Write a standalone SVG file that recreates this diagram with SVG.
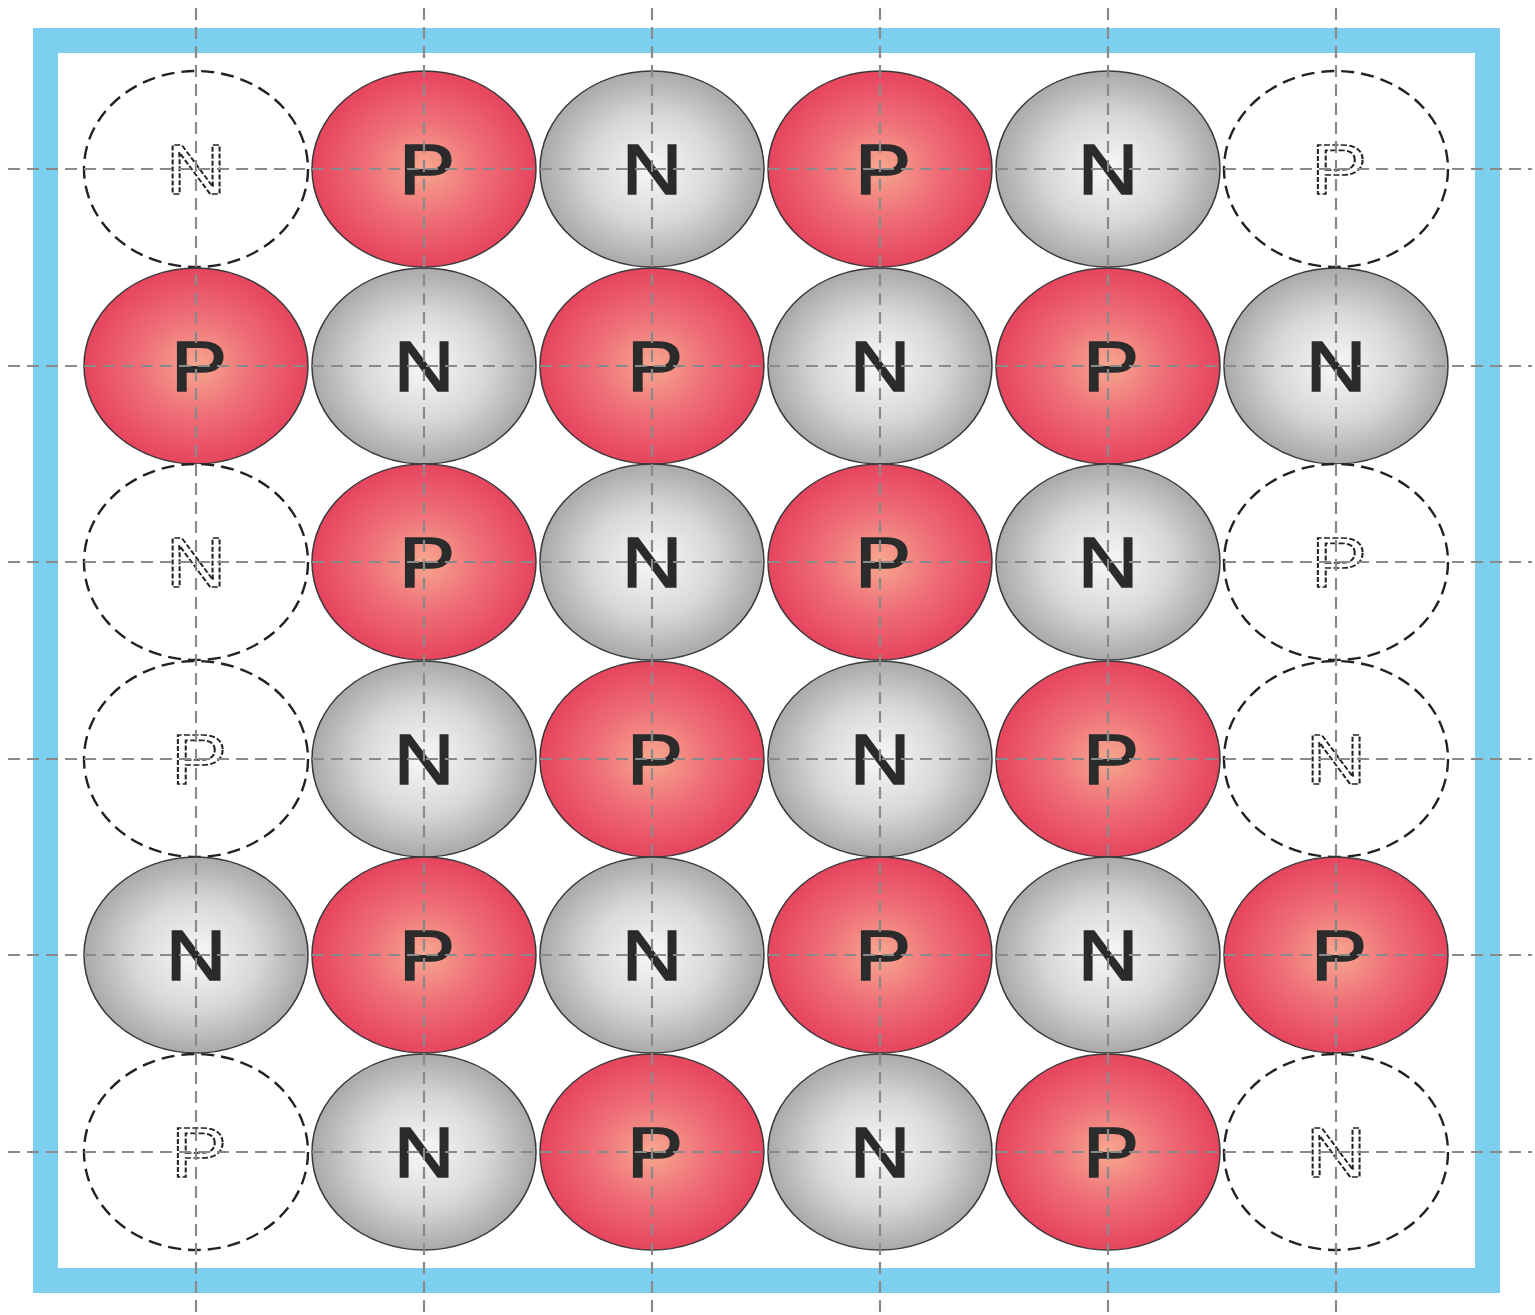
<svg xmlns="http://www.w3.org/2000/svg" width="1535" height="1315" viewBox="0 0 1535 1315">
<defs>
<radialGradient id="gr" cx="0.5" cy="0.5" r="0.5">
<stop offset="0" stop-color="#f7a88f"/>
<stop offset="0.5" stop-color="#ef6f78"/>
<stop offset="1" stop-color="#e6445d"/>
</radialGradient>
<radialGradient id="gg" cx="0.5" cy="0.5" r="0.5">
<stop offset="0" stop-color="#f8f8f8"/>
<stop offset="0.55" stop-color="#d8d8d8"/>
<stop offset="1" stop-color="#a9a9a9"/>
</radialGradient>
<style>
.p{fill:url(#gr);stroke:#3a3a3a;stroke-width:1.5}
.n{fill:url(#gg);stroke:#3a3a3a;stroke-width:1.5}
.h{fill:#fff;stroke:#222;stroke-width:2.4;stroke-dasharray:13 7}
.t{font-family:"Liberation Sans",Arial,sans-serif;font-size:70px;fill:#2b2b2b;stroke:#2b2b2b;stroke-width:1.6;text-anchor:middle}
.th{font-family:"Liberation Sans",Arial,sans-serif;font-size:70px;fill:none;stroke:#222;stroke-width:1.7;stroke-dasharray:5 2;text-anchor:middle}
.g{stroke:#8a8a8a;stroke-width:2.2;stroke-dasharray:12 7;fill:none}
</style>
</defs>
<rect x="0" y="0" width="1535" height="1315" fill="#fff"/>
<rect x="45.5" y="40.5" width="1442" height="1240" fill="#fff" stroke="#7dcfef" stroke-width="25"/>

<g id="r0c0"><ellipse class="h" cx="196" cy="169" rx="112" ry="98"/><g transform="translate(196 169) scale(1.2 1)"><text class="th" x="0" y="25">N</text></g></g>
<g id="r0c1"><ellipse class="p" cx="424" cy="169" rx="112" ry="98"/><g transform="translate(427 169) scale(1.2 1)"><text class="t" x="0" y="25">P</text></g></g>
<g id="r0c2"><ellipse class="n" cx="652" cy="169" rx="112" ry="98"/><g transform="translate(652 169) scale(1.2 1)"><text class="t" x="0" y="25">N</text></g></g>
<g id="r0c3"><ellipse class="p" cx="880" cy="169" rx="112" ry="98"/><g transform="translate(883 169) scale(1.2 1)"><text class="t" x="0" y="25">P</text></g></g>
<g id="r0c4"><ellipse class="n" cx="1108" cy="169" rx="112" ry="98"/><g transform="translate(1108 169) scale(1.2 1)"><text class="t" x="0" y="25">N</text></g></g>
<g id="r0c5"><ellipse class="h" cx="1336" cy="169" rx="112" ry="98"/><g transform="translate(1339 169) scale(1.2 1)"><text class="th" x="0" y="25">P</text></g></g>

<g id="r1c0"><ellipse class="p" cx="196" cy="366" rx="112" ry="98"/><g transform="translate(199 366) scale(1.2 1)"><text class="t" x="0" y="25">P</text></g></g>
<g id="r1c1"><ellipse class="n" cx="424" cy="366" rx="112" ry="98"/><g transform="translate(424 366) scale(1.2 1)"><text class="t" x="0" y="25">N</text></g></g>
<g id="r1c2"><ellipse class="p" cx="652" cy="366" rx="112" ry="98"/><g transform="translate(655 366) scale(1.2 1)"><text class="t" x="0" y="25">P</text></g></g>
<g id="r1c3"><ellipse class="n" cx="880" cy="366" rx="112" ry="98"/><g transform="translate(880 366) scale(1.2 1)"><text class="t" x="0" y="25">N</text></g></g>
<g id="r1c4"><ellipse class="p" cx="1108" cy="366" rx="112" ry="98"/><g transform="translate(1111 366) scale(1.2 1)"><text class="t" x="0" y="25">P</text></g></g>
<g id="r1c5"><ellipse class="n" cx="1336" cy="366" rx="112" ry="98"/><g transform="translate(1336 366) scale(1.2 1)"><text class="t" x="0" y="25">N</text></g></g>

<g id="r2c0"><ellipse class="h" cx="196" cy="562" rx="112" ry="98"/><g transform="translate(196 562) scale(1.2 1)"><text class="th" x="0" y="25">N</text></g></g>
<g id="r2c1"><ellipse class="p" cx="424" cy="562" rx="112" ry="98"/><g transform="translate(427 562) scale(1.2 1)"><text class="t" x="0" y="25">P</text></g></g>
<g id="r2c2"><ellipse class="n" cx="652" cy="562" rx="112" ry="98"/><g transform="translate(652 562) scale(1.2 1)"><text class="t" x="0" y="25">N</text></g></g>
<g id="r2c3"><ellipse class="p" cx="880" cy="562" rx="112" ry="98"/><g transform="translate(883 562) scale(1.2 1)"><text class="t" x="0" y="25">P</text></g></g>
<g id="r2c4"><ellipse class="n" cx="1108" cy="562" rx="112" ry="98"/><g transform="translate(1108 562) scale(1.2 1)"><text class="t" x="0" y="25">N</text></g></g>
<g id="r2c5"><ellipse class="h" cx="1336" cy="562" rx="112" ry="98"/><g transform="translate(1339 562) scale(1.2 1)"><text class="th" x="0" y="25">P</text></g></g>

<g id="r3c0"><ellipse class="h" cx="196" cy="759" rx="112" ry="98"/><g transform="translate(199 759) scale(1.2 1)"><text class="th" x="0" y="25">P</text></g></g>
<g id="r3c1"><ellipse class="n" cx="424" cy="759" rx="112" ry="98"/><g transform="translate(424 759) scale(1.2 1)"><text class="t" x="0" y="25">N</text></g></g>
<g id="r3c2"><ellipse class="p" cx="652" cy="759" rx="112" ry="98"/><g transform="translate(655 759) scale(1.2 1)"><text class="t" x="0" y="25">P</text></g></g>
<g id="r3c3"><ellipse class="n" cx="880" cy="759" rx="112" ry="98"/><g transform="translate(880 759) scale(1.2 1)"><text class="t" x="0" y="25">N</text></g></g>
<g id="r3c4"><ellipse class="p" cx="1108" cy="759" rx="112" ry="98"/><g transform="translate(1111 759) scale(1.2 1)"><text class="t" x="0" y="25">P</text></g></g>
<g id="r3c5"><ellipse class="h" cx="1336" cy="759" rx="112" ry="98"/><g transform="translate(1336 759) scale(1.2 1)"><text class="th" x="0" y="25">N</text></g></g>

<g id="r4c0"><ellipse class="n" cx="196" cy="955" rx="112" ry="98"/><g transform="translate(196 955) scale(1.2 1)"><text class="t" x="0" y="25">N</text></g></g>
<g id="r4c1"><ellipse class="p" cx="424" cy="955" rx="112" ry="98"/><g transform="translate(427 955) scale(1.2 1)"><text class="t" x="0" y="25">P</text></g></g>
<g id="r4c2"><ellipse class="n" cx="652" cy="955" rx="112" ry="98"/><g transform="translate(652 955) scale(1.2 1)"><text class="t" x="0" y="25">N</text></g></g>
<g id="r4c3"><ellipse class="p" cx="880" cy="955" rx="112" ry="98"/><g transform="translate(883 955) scale(1.2 1)"><text class="t" x="0" y="25">P</text></g></g>
<g id="r4c4"><ellipse class="n" cx="1108" cy="955" rx="112" ry="98"/><g transform="translate(1108 955) scale(1.2 1)"><text class="t" x="0" y="25">N</text></g></g>
<g id="r4c5"><ellipse class="p" cx="1336" cy="955" rx="112" ry="98"/><g transform="translate(1339 955) scale(1.2 1)"><text class="t" x="0" y="25">P</text></g></g>

<g id="r5c0"><ellipse class="h" cx="196" cy="1152" rx="112" ry="98"/><g transform="translate(199 1152) scale(1.2 1)"><text class="th" x="0" y="25">P</text></g></g>
<g id="r5c1"><ellipse class="n" cx="424" cy="1152" rx="112" ry="98"/><g transform="translate(424 1152) scale(1.2 1)"><text class="t" x="0" y="25">N</text></g></g>
<g id="r5c2"><ellipse class="p" cx="652" cy="1152" rx="112" ry="98"/><g transform="translate(655 1152) scale(1.2 1)"><text class="t" x="0" y="25">P</text></g></g>
<g id="r5c3"><ellipse class="n" cx="880" cy="1152" rx="112" ry="98"/><g transform="translate(880 1152) scale(1.2 1)"><text class="t" x="0" y="25">N</text></g></g>
<g id="r5c4"><ellipse class="p" cx="1108" cy="1152" rx="112" ry="98"/><g transform="translate(1111 1152) scale(1.2 1)"><text class="t" x="0" y="25">P</text></g></g>
<g id="r5c5"><ellipse class="h" cx="1336" cy="1152" rx="112" ry="98"/><g transform="translate(1336 1152) scale(1.2 1)"><text class="th" x="0" y="25">N</text></g></g>

<g id="connectors" class="g">
<line x1="196" y1="8" x2="196" y2="1315"/>
<line x1="424" y1="8" x2="424" y2="1315"/>
<line x1="652" y1="8" x2="652" y2="1315"/>
<line x1="880" y1="8" x2="880" y2="1315"/>
<line x1="1108" y1="8" x2="1108" y2="1315"/>
<line x1="1336" y1="8" x2="1336" y2="1315"/>
<line x1="8" y1="169" x2="1532" y2="169"/>
<line x1="8" y1="366" x2="1532" y2="366"/>
<line x1="8" y1="562" x2="1532" y2="562"/>
<line x1="8" y1="759" x2="1532" y2="759"/>
<line x1="8" y1="955" x2="1532" y2="955"/>
<line x1="8" y1="1152" x2="1532" y2="1152"/>
</g>
</svg>
